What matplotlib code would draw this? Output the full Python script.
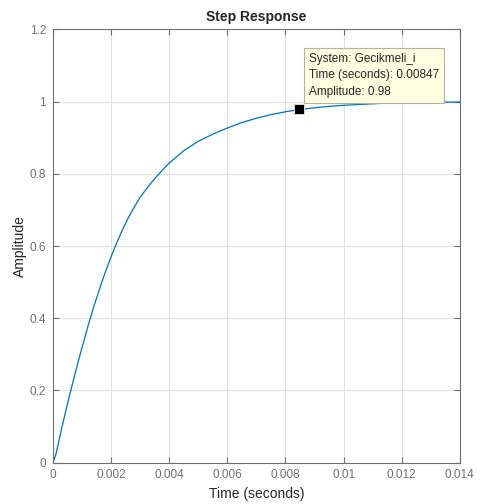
import numpy as np
import matplotlib
matplotlib.use("Agg")
import matplotlib.pyplot as plt

plt.rcParams['font.family'] = ['Liberation Sans', 'DejaVu Sans']

# Pontos (resposta ao degrau)
t = [0, 0.0001, 0.0002, 0.0003, 0.0004, 0.0005, 0.0006, 0.0008, 0.0010,
     0.0012, 0.0014, 0.0016, 0.0018, 0.0020, 0.0022, 0.0024, 0.0026, 0.0028,
     0.0030, 0.0033, 0.0036, 0.0040, 0.0045, 0.0050, 0.0055, 0.0060, 0.0065,
     0.0070, 0.0075, 0.0080, 0.00847, 0.0090, 0.0095, 0.0100, 0.0105, 0.0110,
     0.0115, 0.0120, 0.0130, 0.0140]
amp = [0, 0.022, 0.058, 0.094, 0.128, 0.162, 0.195, 0.258, 0.318,
       0.376, 0.43, 0.48, 0.527, 0.57, 0.61, 0.646, 0.679, 0.708,
       0.735, 0.767, 0.796, 0.830, 0.864, 0.890, 0.910, 0.927, 0.942,
       0.954, 0.964, 0.972, 0.978, 0.983, 0.987, 0.990, 0.992, 0.994,
       0.996, 0.997, 0.998, 0.999]

xticks = [0, 0.002, 0.004, 0.006, 0.008, 0.01, 0.012, 0.014]
xticklabels = ['0', '0.002', '0.004', '0.006', '0.008', '0.01', '0.012', '0.014']
yticks = [0, 0.2, 0.4, 0.6, 0.8, 1, 1.2]
yticklabels = ['0', '0.2', '0.4', '0.6', '0.8', '1', '1.2']

tip_t = 0.00847
tip_amp = 0.98
tip_text = "System: Gecikmeli_i\nTime (seconds): 0.00847\nAmplitude: 0.98"

fig = plt.figure(figsize=(4.81, 5.04), dpi=100)
ax = fig.add_axes([0.110, 0.0823, 0.846, 0.8592])

ax.plot(t, amp, color='#0072BD', lw=0.9)

ax.set_xlim(0, 0.014)
ax.set_ylim(0, 1.2)
ax.set_xticks(xticks)
ax.set_xticklabels(xticklabels)
ax.set_yticks(yticks)
ax.set_yticklabels(yticklabels)

ax.grid(True, color='#e0e0e0', lw=0.8)
ax.set_axisbelow(True)
for s in ax.spines.values():
    s.set_color('#6e6e6e')
    s.set_linewidth(0.8)
ax.tick_params(direction='in', length=4, width=0.8, color='#6e6e6e',
               labelcolor='#707070', labelsize=8.5, top=True, right=True, pad=5)

ax.set_title('Step Response', fontsize=10, fontweight='bold', color='#262626', pad=6)
ax.set_xlabel('Time (seconds)', fontsize=10, color='#262626', labelpad=4)
ax.set_ylabel('Amplitude', fontsize=10, color='#262626', labelpad=2)

# Data tip
ax.plot([tip_t], [tip_amp], marker='s', ms=7, color='black', mec='#f0f0c0', mew=0.6, zorder=5)
ax.annotate(tip_text, xy=(tip_t, tip_amp), xytext=(10, 11), textcoords='offset pixels',
            ha='left', va='bottom', fontsize=8.5, color='#262626', linespacing=1.5,
            bbox=dict(boxstyle='square,pad=0.4', fc='#ffffe1', ec='#b4b4a0', lw=0.8),
            zorder=6)

fig.savefig('out.png', dpi=100)
